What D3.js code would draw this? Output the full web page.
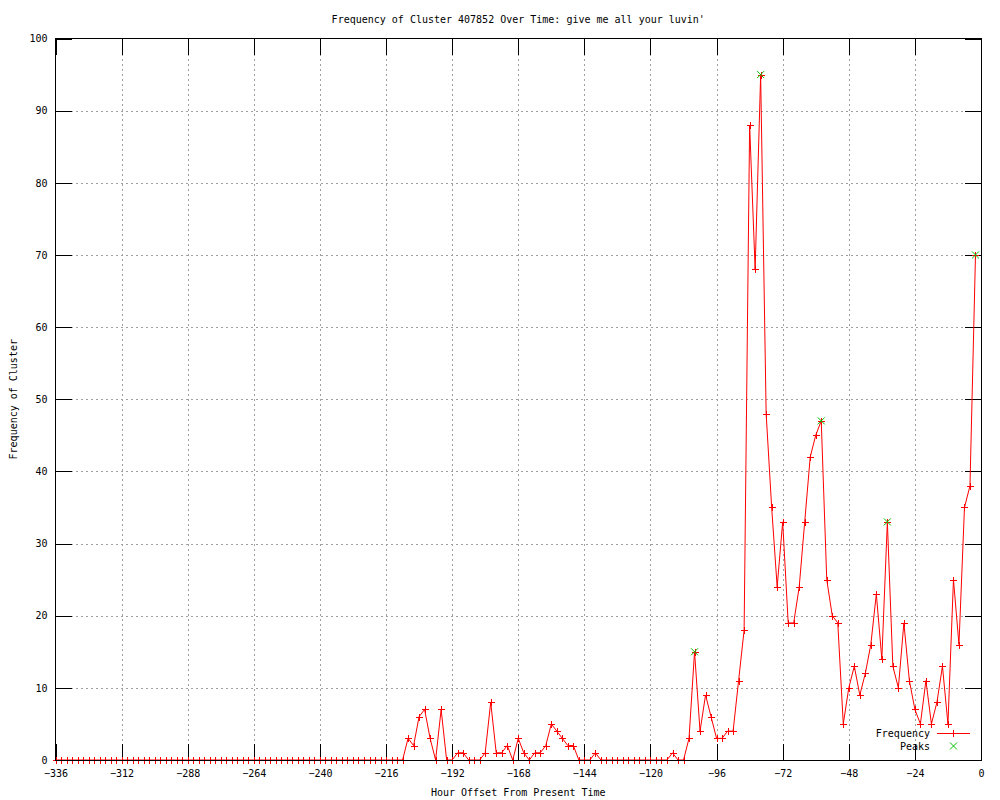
<!DOCTYPE html>
<html>
<head>
<meta charset="utf-8">
<script src="https://cdn.jsdelivr.net/npm/d3@7"></script>
<style>
  body { margin: 0; background: #fff; }
  svg text { font-family: "DejaVu Sans Mono", monospace; font-size: 10px; fill: #000; }
</style>
</head>
<body>
<svg id="viz" width="1000" height="800"></svg>
<script>
// hour offsets: one sample every 2 hours, -336 .. -2
var firstHour = -336;
var hourStep = 2;

// frequency per sample
var frequency = [
  0,0,0,0,0,0,0,0,0,0, 0,0,0,0,0,0,0,0,0,0,
  0,0,0,0,0,0,0,0,0,0, 0,0,0,0,0,0,0,0,0,0,
  0,0,0,0,0,0,0,0,0,0, 0,0,0,0,0,0,0,0,0,0,
  0,0,0,0,3,2,6,7,3,0, 7,0,0,1,1,0,0,0,1,8,
  1,1,2,0,3,1,0,1,1,2, 5,4,3,2,2,0,0,0,1,0,
  0,0,0,0,0,0,0,0,0,0, 0,0,1,0,0,3,15,4,9,6,
  3,3,4,4,11,18,88,68,95,48, 35,24,33,19,19,24,33,42,45,47,
  25,20,19,5,10,13,9,12,16,23, 14,33,13,10,19,11,7,5,11,5,
  8,13,5,25,16,35,38,70
];

var peakHours = [-104, -80, -58, -34, -2];
var peakValues = [15, 95, 47, 33, 70];

var xTicks = [-336, -312, -288, -264, -240, -216, -192, -168, -144, -120, -96, -72, -48, -24, 0];
var yTicks = [0, 10, 20, 30, 40, 50, 60, 70, 80, 90, 100];

var titleText = "Frequency of Cluster 407852 Over Time: give me all your luvin'";
var xLabelText = "Hour Offset From Present Time";
var yLabelText = "Frequency of Cluster";
var legendNames = ["Frequency", "Peaks"];

var RED = "#ff0000";
var GREEN = "#00c000";

var svg = d3.select("#viz");
// note: don't call these top/left - window.top is read only
var pL = 55.5, pR = 981, pT = 38.5, pB = 760;
var tickLen = 16;

var series = frequency.map(function(v, i) {
  return { hour: firstHour + i * hourStep, value: v };
});
var peaks = peakHours.map(function(h, i) {
  return { hour: h, value: peakValues[i] };
});

var x = d3.scaleLinear().domain([-336, 0]).range([pL, pR]);
var y = d3.scaleLinear().domain([0, 100]).range([pB, pT]);

// grid (dashed grey, skip the border positions)
var grid = svg.append("g")
  .attr("stroke", "#a0a0a0")
  .attr("stroke-dasharray", "2,3")
  .attr("shape-rendering", "crispEdges");
grid.selectAll("line.gx")
  .data(xTicks.slice(1, -1))
  .enter().append("line")
  .attr("x1", d => Math.round(x(d)) + 0.5).attr("x2", d => Math.round(x(d)) + 0.5)
  .attr("y1", pT).attr("y2", pB);
grid.selectAll("line.gy")
  .data(yTicks.slice(1, -1))
  .enter().append("line")
  .attr("y1", d => Math.round(y(d)) + 0.5).attr("y2", d => Math.round(y(d)) + 0.5)
  .attr("x1", pL).attr("x2", pR);

// axes: bottom/left with labels, top/right mirrored ticks only
var xAxis = d3.axisBottom(x).tickValues(xTicks).tickSize(-tickLen).tickPadding(13)
  .tickFormat(d3.format("d"));
var yAxis = d3.axisLeft(y).tickValues(yTicks).tickSize(-tickLen).tickPadding(8);

var gx = svg.append("g").attr("transform", "translate(0," + pB + ")").call(xAxis);
var gy = svg.append("g").attr("transform", "translate(" + pL + ",0)").call(yAxis);
var gx2 = svg.append("g").attr("transform", "translate(0," + pT + ")")
  .call(d3.axisTop(x).tickValues(xTicks).tickSize(-tickLen).tickFormat(""));
var gy2 = svg.append("g").attr("transform", "translate(" + pR + ",0)")
  .call(d3.axisRight(y).tickValues(yTicks).tickSize(-tickLen).tickFormat(""));

[gx, gy, gx2, gy2].forEach(function(g) {
  g.select(".domain").remove();
  g.selectAll("line").attr("stroke", "#000").attr("shape-rendering", "crispEdges");
  g.selectAll("text").attr("font-family", null).attr("font-size", null);
});
gx.selectAll("text").attr("dy", "0.35em");

// frequency line + "+" markers
var line = d3.line().x(d => x(d.hour)).y(d => y(d.value));
svg.append("path")
  .datum(series)
  .attr("d", line)
  .attr("fill", "none")
  .attr("stroke", RED)
  .attr("stroke-width", 1);

function plus(g, cx, cy, color) {
  cx = Math.round(cx) + 0.5; cy = Math.round(cy) + 0.5;
  g.append("path")
    .attr("d", "M" + (cx - 3.5) + "," + cy + "H" + (cx + 3.5) + "M" + cx + "," + (cy - 3.5) + "V" + (cy + 3.5))
    .style("stroke", color).attr("stroke-width", 1).attr("fill", "none");
}
function cross(g, cx, cy, color) {
  g.append("path")
    .attr("d", "M" + (cx - 3.5) + "," + (cy - 3.5) + "L" + (cx + 3.5) + "," + (cy + 3.5) +
      "M" + (cx - 3.5) + "," + (cy + 3.5) + "L" + (cx + 3.5) + "," + (cy - 3.5))
    .style("stroke", color).attr("stroke-width", 1).attr("fill", "none");
}

var marks = svg.append("g");
series.forEach(function(d) { plus(marks, x(d.hour), y(d.value), RED); });

var peakMarks = svg.append("g");
peaks.forEach(function(d) { cross(peakMarks, x(d.hour), y(d.value), GREEN); });

// border on top of everything
svg.append("rect")
  .attr("x", pL).attr("y", pT)
  .attr("width", pR - pL).attr("height", pB - pT)
  .attr("fill", "none").attr("stroke", "#000").attr("shape-rendering", "crispEdges");

// titles
svg.append("text").attr("x", (pL + pR) / 2).attr("y", 23)
  .attr("text-anchor", "middle").text(titleText);
svg.append("text").attr("x", (pL + pR) / 2).attr("y", 796)
  .attr("text-anchor", "middle").text(xLabelText);
svg.append("text")
  .attr("transform", "translate(17," + (pT + pB) / 2 + ") rotate(-90)")
  .attr("text-anchor", "middle").text(yLabelText);

// legend, bottom right inside the plot
var legendG = svg.append("g");
legendG.append("text").attr("x", 930).attr("y", 733).attr("dy", "0.35em")
  .attr("text-anchor", "end").text(legendNames[0]);
legendG.append("path").attr("d", "M937,733.5H970")
  .style("stroke", RED).attr("stroke-width", 1).attr("fill", "none");
plus(legendG, 953, 733, RED);
legendG.append("text").attr("x", 930).attr("y", 746).attr("dy", "0.35em")
  .attr("text-anchor", "end").text(legendNames[1]);
cross(legendG, 953.5, 746, GREEN);
</script>
</body>
</html>
